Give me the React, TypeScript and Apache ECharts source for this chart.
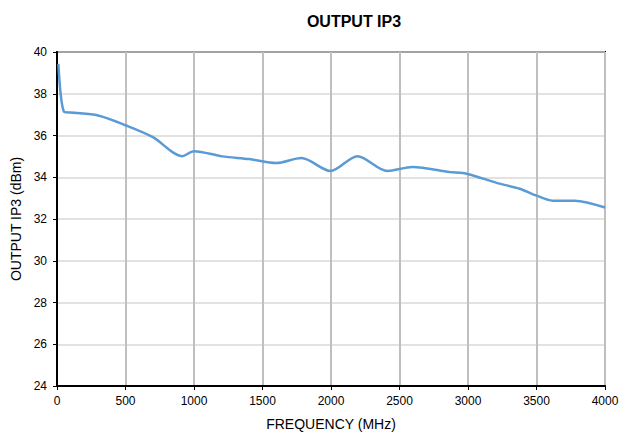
import React, { useEffect, useRef } from "react";
import * as echarts from "echarts";

const freqMHz = [10, 50, 100, 300, 500, 700, 914, 1000, 1206, 1404, 1600, 1784, 1996, 2193, 2412, 2595, 2865, 2997, 3209, 3377, 3501, 3618, 3779, 4000];
const ip3dBm = [39.43, 37.15, 37.1, 36.96, 36.49, 35.92, 35.01, 35.25, 35.0, 34.87, 34.68, 34.92, 34.3, 35.01, 34.3, 34.49, 34.25, 34.16, 33.73, 33.45, 33.12, 32.88, 32.88, 32.55];

const title = "OUTPUT IP3";
const xName = "FREQUENCY (MHz)";
const yName = "OUTPUT IP3 (dBm)";

export default function App() {
  const ref = useRef<HTMLDivElement>(null);
  useEffect(() => {
    const chart = echarts.init(ref.current!, undefined, { renderer: "svg" });
    const font = "'Liberation Sans', Arial, sans-serif";
    chart.setOption({
      animation: false,
      textStyle: { fontFamily: font },
      title: {
        text: title,
        left: 349,
        textAlign: "center",
        top: 8,
        textStyle: { fontFamily: font, fontSize: 16, fontWeight: "bold", color: "#000" },
      },
      grid: {
        left: 57,
        right: 28,
        top: 52,
        bottom: 48,
        show: true,
        borderColor: "#000",
        borderWidth: 2,
        backgroundColor: "transparent",
      },
      xAxis: {
        type: "value",
        min: 0,
        max: 4000,
        interval: 500,
        name: xName,
        nameLocation: "middle",
        nameGap: 31,
        nameTextStyle: { fontFamily: font, fontSize: 14, color: "#000" },
        axisLine: { show: true, lineStyle: { color: "#000", width: 2 } },
        axisTick: { show: true, length: 4, lineStyle: { color: "#000", width: 1 } },
        axisLabel: { fontFamily: font, fontSize: 12, color: "#000", margin: 9, formatter: (v: number) => String(v) },
        splitLine: { show: true, lineStyle: { color: "#bfbfbf", width: 2 } },
      },
      yAxis: {
        type: "value",
        min: 24,
        max: 40,
        interval: 2,
        name: yName,
        nameLocation: "middle",
        nameGap: 33,
        nameTextStyle: { fontFamily: font, fontSize: 14, color: "#000" },
        axisLine: { show: true, lineStyle: { color: "#000", width: 2 } },
        axisTick: { show: true, length: 4, lineStyle: { color: "#000", width: 1 } },
        axisLabel: { fontFamily: font, fontSize: 12, color: "#000", margin: 10 },
        splitLine: { show: true, lineStyle: { color: "#d9d9d9", width: 1.5 } },
      },
      series: [
        {
          type: "line",
          data: freqMHz.map((f, i) => [f, ip3dBm[i]]),
          smooth: 0.3,
          showSymbol: false,
          symbol: "none",
          lineStyle: { color: "#5b9bd5", width: 2.5 },
        },
      ],
    });
    return () => chart.dispose();
  }, []);
  return <div ref={ref} style={{ width: 633, height: 436, position: "absolute", left: 0, top: 0 }} />;
}
